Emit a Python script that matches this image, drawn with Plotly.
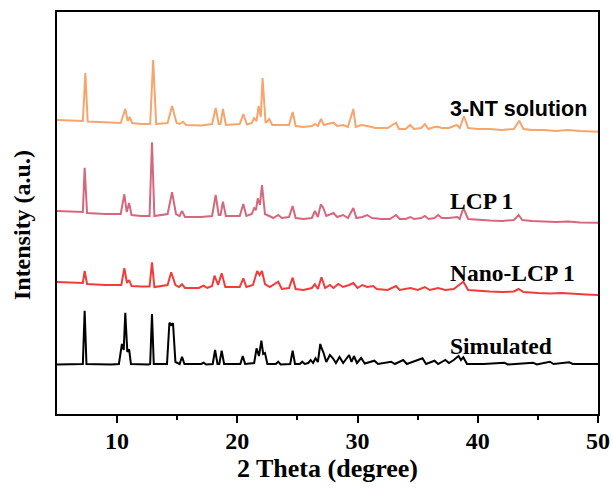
import plotly.graph_objects as go

# ---- data (2 Theta in degree, intensity in a.u., stacked as in the figure) ----
nt_x = [5.0, 6.9, 7.15, 7.36, 7.55, 8.5, 10.3, 10.68, 10.88, 11.04, 11.25, 12.0, 12.75, 13.0, 13.25,
        14.2, 14.57, 14.95, 15.2, 15.48, 15.75, 17.0, 17.9, 18.2, 18.45, 18.6, 18.8, 19.05, 20.2, 20.5,
        20.8, 21.2, 21.4, 21.6, 21.77, 21.95, 22.1, 22.35, 22.66, 22.9, 24.3, 24.6, 24.85, 25.5, 26.2,
        26.46, 26.7, 26.96, 27.2, 27.5, 28.0, 28.3, 28.8, 29.2, 29.65, 29.85, 30.3, 30.8, 31.5, 32.5,
        33.2, 33.45, 34.0, 34.37, 34.7, 35.3, 35.6, 35.9, 36.4, 36.7, 37.0, 37.6, 38.25, 38.5, 38.85,
        39.2, 40.0, 41.0, 42.0, 43.0, 43.45, 43.8, 44.5, 45.5, 46.5, 47.5, 48.5, 50.0]
nt_y = [294, 293, 293, 341, 292.5, 292, 291, 305, 293, 297, 291, 290, 290, 354, 290,
        291, 308, 291, 290, 292.3, 289, 288.5, 290, 306, 290, 290, 305, 289, 290, 300,
        289.5, 291, 296, 293, 308, 297, 336, 291, 295, 289, 289, 302, 288, 287, 288,
        290, 288, 295, 289, 290, 291.3, 288, 289, 287, 305, 287, 289, 288, 286, 286,
        291.3, 285, 285, 289, 285, 286, 290, 285, 287, 287.3, 286, 286, 289, 286, 298,
        286, 285, 285, 284, 285, 293.3, 285, 284, 284, 283, 284, 283, 282.3]

lcp_x = [5.0, 7.0, 7.15, 7.3, 7.5, 9.0, 10.3, 10.6, 10.8, 11.0, 11.2, 12.0, 12.7, 12.9, 13.1,
         14.2, 14.57, 14.9, 15.2, 15.4, 15.65, 17.0, 17.9, 18.2, 18.45, 18.6, 18.8, 19.05, 20.2, 20.5,
         20.75, 21.2, 21.4, 21.55, 21.7, 21.88, 22.05, 22.3, 22.6, 23.0, 23.4, 23.7, 24.3, 24.6, 24.85,
         25.5, 26.2, 26.45, 26.7, 26.95, 27.15, 27.4, 28.0, 28.3, 28.8, 29.2, 29.65, 29.9, 30.4, 30.8,
         31.2, 32.0, 32.7, 33.2, 33.5, 34.0, 34.4, 34.7, 35.3, 35.6, 35.9, 36.4, 36.7, 37.0, 37.6,
         38.3, 38.5, 38.8, 39.2, 40.0, 41.0, 42.0, 43.0, 43.4, 43.7, 44.5, 45.5, 46.5, 47.5, 48.5, 50.0]
lcp_y = [203, 202, 202, 246.3, 201, 200, 200, 219.7, 202, 211, 199, 198, 198, 271.7, 198,
         200, 221.7, 200, 198, 203, 197, 197, 198, 219, 199, 199, 212.3, 198, 198, 210,
         198, 200, 206, 204, 215.7, 209, 229, 200, 198, 196, 199, 196, 197, 208, 196,
         195, 196, 203, 197, 209.7, 206, 198, 201, 197, 199, 196, 206, 196, 197, 199,
         196, 195, 195, 199, 195, 195, 197, 195, 196, 198, 195, 196, 199, 196, 196,
         197, 195, 206, 195, 194, 193.5, 193, 194, 199, 194, 193, 192.5, 192, 192.5, 191.5, 191.3]

nano_x = [5.0, 7.0, 7.15, 7.3, 7.5, 9.0, 10.35, 10.6, 10.82, 11.0, 11.2, 12.0, 12.7, 12.9, 13.1,
          14.2, 14.5, 14.85, 15.15, 15.4, 15.65, 16.8, 17.2, 17.5, 17.9, 18.1, 18.4, 18.7, 19.0, 20.2,
          20.5, 20.75, 21.3, 21.65, 21.85, 22.05, 22.3, 22.7, 23.4, 23.7, 24.3, 24.6, 24.85, 25.5, 26.2,
          26.45, 26.7, 27.0, 27.3, 27.7, 28.0, 28.4, 28.8, 29.3, 29.65, 30.0, 30.4, 30.8, 31.3, 31.6,
          32.5, 33.2, 33.5, 34.4, 35.0, 35.6, 36.0, 36.7, 37.3, 38.0, 38.8, 39.2, 40.0, 41.0, 42.0,
          43.0, 43.4, 43.8, 45.0, 46.0, 47.0, 48.0, 49.0, 50.0]
nano_y = [132, 131, 131, 143, 130, 129, 129, 145.7, 131, 134, 128, 127.5, 127.5, 151.7, 127,
          129, 141.7, 129, 127, 129.7, 126, 126, 128.3, 126, 128, 138.3, 129, 140.7, 127, 127,
          135.7, 127, 129, 143, 139, 143, 130, 127, 132.3, 125, 126, 136.3, 125, 124, 126,
          129.7, 125, 136.7, 126, 129, 126, 130, 127, 129, 131, 126, 129, 127, 128, 125,
          124, 128, 124, 126, 124, 127, 124, 126, 124, 125, 132.3, 124, 123, 122.5, 122,
          122.5, 125, 122, 121, 120.5, 121, 120, 119.5, 119]

sim_x = [5.0, 7.0, 7.15, 7.3, 7.45, 9.5, 10.15, 10.4, 10.55, 10.68, 10.85, 11.0, 11.15, 12.6, 12.75,
         12.9, 13.05, 14.15, 14.35, 14.5, 14.65, 14.85, 15.2, 15.4, 15.6, 17.0, 17.2, 17.4, 17.95, 18.15,
         18.35, 18.5, 18.7, 18.9, 20.25, 20.45, 20.65, 21.4, 21.6, 21.8, 22.0, 22.15, 22.3, 22.5, 23.2,
         23.4, 23.6, 24.4, 24.6, 24.8, 25.2, 25.4, 25.6, 25.9, 26.1, 26.3, 26.5, 26.7, 26.9, 27.0,
         27.15, 27.4, 27.7, 27.95, 28.2, 28.5, 28.8, 29.3, 29.5, 29.7, 29.95, 30.3, 30.6, 31.4, 31.7,
         32.8, 33.1, 33.8, 34.1, 35.4, 35.7, 36.4, 36.7, 37.3, 37.6, 38.0, 38.4, 38.6, 38.8, 39.1,
         40.5, 42.2, 42.5, 44.6, 44.9, 46.0, 46.3, 47.6, 47.9, 50.0]
sim_y = [49.5, 49.5, 50, 103.3, 50, 49.5, 50, 70, 64, 101.3, 62, 64.7, 50, 49.5, 50,
         100, 50, 50, 91.3, 89, 90.7, 52, 50, 57.3, 50, 50, 51.3, 49.5, 50, 64,
         50, 50, 63.3, 50, 50, 58, 50, 51, 65.7, 58, 73.3, 60, 61, 50, 50,
         52.3, 49.5, 50, 63.3, 50, 50, 52.3, 50, 51, 54, 51, 55.7, 52, 70, 66,
         62, 52, 59, 55.7, 51, 57, 51, 59, 52, 58, 51, 56, 50.5, 53.3, 50,
         52.3, 50, 54, 50, 55.7, 50, 53.3, 50, 54, 51, 54, 58, 54, 56.7, 50,
         50, 51.3, 49.5, 51.3, 49.5, 52.3, 50, 51.7, 50, 50]

series_names = ["3-NT solution", "LCP 1", "Nano-LCP 1", "Simulated"]
series_x = [nt_x, lcp_x, nano_x, sim_x]
series_y = [nt_y, lcp_y, nano_y, sim_y]
series_colors = ["#F6A56C", "#D6677D", "#F23B3B", "#000000"]
label_y = [305, 213, 141, 68]
label_x = 37.55
x_ticks = [10, 20, 30, 40, 50]
x_minor = [15, 25, 35, 45]

SERIF = "Liberation Serif, Times New Roman, serif"
SANS = "Liberation Sans, Arial, sans-serif"

fig = go.Figure()
for name, xs, ys, col in zip(series_names, series_x, series_y, series_colors):
    fig.add_trace(go.Scatter(x=xs, y=ys, mode="lines", name=name,
                             line=dict(color=col, width=2), showlegend=False))

for name, ly in zip(series_names, label_y):
    fam = SANS if name == "3-NT solution" else SERIF
    size = 21.5 if name == "3-NT solution" else 23.5
    fig.add_annotation(x=label_x, y=ly, xref="x", yref="y", text=name, showarrow=False,
                       xanchor="left", yanchor="middle",
                       font=dict(family=fam, size=size, color="black", weight="bold"))

fig.add_annotation(x=0, y=0.47, xref="paper", yref="paper", text="Intensity (a.u.)",
                   textangle=-90, showarrow=False, xanchor="center", yanchor="middle", xshift=-35,
                   font=dict(family=SERIF, size=24, color="black", weight="bold"))

fig.update_xaxes(range=[5, 50], tickvals=x_ticks, ticks="outside", ticklen=7, tickwidth=2,
                 tickcolor="black", showline=True, linewidth=2, linecolor="black", mirror=True,
                 showgrid=False, zeroline=False, automargin=False, ticklabelstandoff=-3,
                 tickfont=dict(family=SERIF, size=24, color="black", weight="bold"),
                 title=dict(text="2 Theta (degree)", standoff=6,
                            font=dict(family=SERIF, size=26, color="black", weight="bold")),
                 minor=dict(tickvals=x_minor, ticks="outside", ticklen=4, tickwidth=2, tickcolor="black"))
fig.update_yaxes(range=[0, 402], showticklabels=False, ticks="", showline=True, linewidth=2,
                 linecolor="black", mirror=True, showgrid=False, zeroline=False, automargin=False)

fig.update_layout(width=612, height=490, margin=dict(l=57, r=14, t=12, b=76, autoexpand=False),
                  plot_bgcolor="white", paper_bgcolor="white")

fig.write_html("out.html")
